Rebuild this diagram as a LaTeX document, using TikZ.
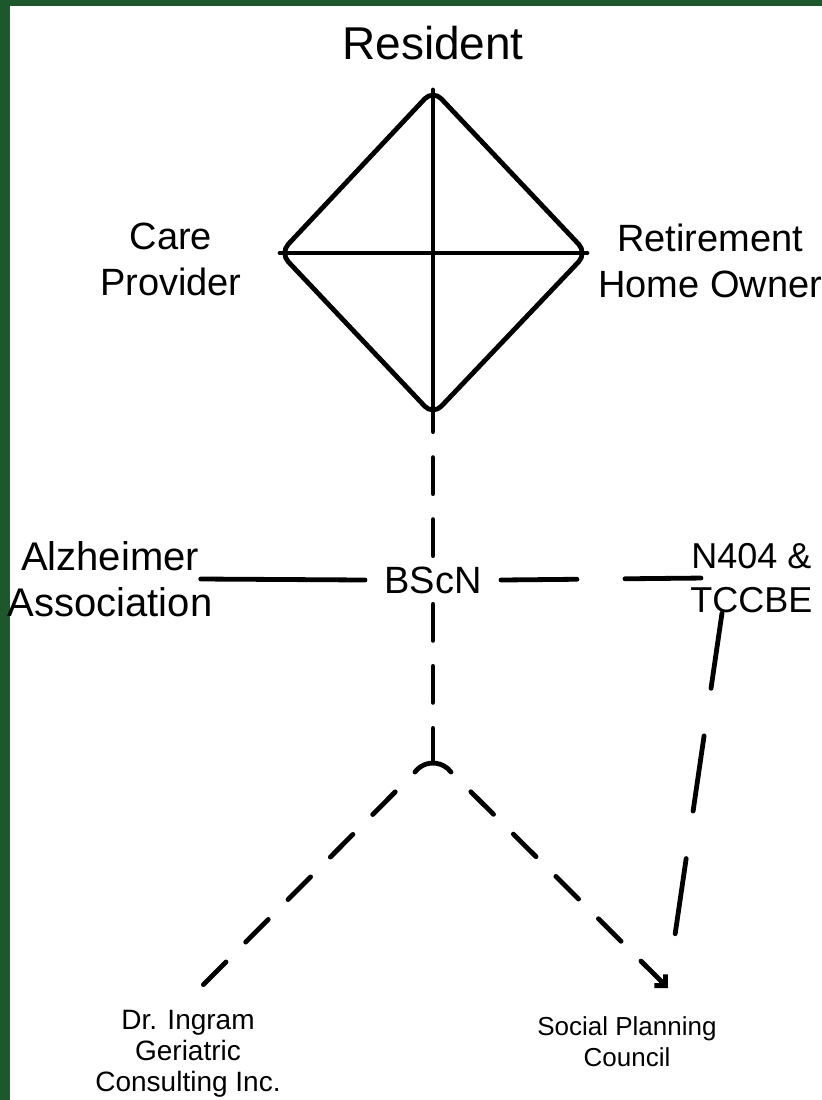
\documentclass[tikz,border=0pt]{standalone}
\usepackage{fontspec}
\setmainfont{Liberation Sans}
\usepackage{tikz}
\usetikzlibrary{arrows.meta,positioning}
\definecolor{slidegreen}{RGB}{29,88,44}

\begin{document}
\begin{tikzpicture}[
    x=0.5pt, y=0.5pt,
    line cap=round,
    line join=round,
    >={Straight Barb[length=4pt,width=8pt]},
    tag/.style={
		inner sep=0pt,
		align=center,
		font=\fontsize{19}{23}\selectfont
	},
	big/.style={
		inner sep=0pt,
		font=\fontsize{23}{27}\selectfont
	},
	small/.style={
		inner sep=0pt,
		align=center,
		font=\fontsize{14}{15.5}\selectfont
	},
	edge/.style={
		line width=2.4pt
	},
	dashline/.style={
		line width=2.4pt,
		dash pattern=on 18pt off 13pt
	},
	longdash/.style={
		line width=2.4pt,
		dash pattern=on 38pt off 24pt
	},
	diagdash/.style={
		line width=2.4pt,
		dash pattern=on 16pt off 14pt,
		dash phase=16pt
	}
  ]

% // slide frame
\fill [slidegreen] (0,0) rectangle (822,-1100);
\fill [white] (10,-6) rectangle (822,-1100);
\useasboundingbox (0,0) rectangle (822,-1100);

% // the diamond
\coordinate (dtop) at (433,-90);
\coordinate (dright) at (587,-253);
\coordinate (dbot) at (433,-415);
\coordinate (dleft) at (280,-253);

\draw [edge, rounded corners=6pt] (dtop) -- (dright) -- (dbot) -- (dleft) -- cycle;
\draw [edge] (dtop) -- (dbot);
\draw [edge] (dleft) -- (dright);

\node [big, above=15pt of dtop] (resident) {Resident};
\node [tag, left=19pt of dleft, yshift=-3pt] (care) {Care\\Provider};
\node [tag, right=5.5pt of dright, yshift=-4pt] (owner) {Retirement\\Home Owner};

% // the middle row
\node [tag, minimum height=24pt, inner xsep=9.5pt] (bscn) at (433,-580) {BScN};
\node [tag, font=\fontsize{20}{23}\selectfont] (alz) at (110,-579) {Alzheimer\\Association};
\node [tag, anchor=west, font=\fontsize{18}{22}\selectfont] (ntc) at (690,-578) {N404 \&\\TCCBE};

% // bottom row
\node [small] (ingram) at (188,-1054) {Dr. Ingram\\Geriatric\\Consulting Inc.};
\node [small, font=\fontsize{13}{15.5}\selectfont] (spc) at (627,-1042) {Social Planning\\Council};

\coordinate (junc) at (433,-763);
\coordinate (arcL) at (415,-772);
\coordinate (arcR) at (451,-772);
\coordinate (endL) at (200,-988);
\coordinate (endR) at (668,-988);
\coordinate (endN) at (675,-935);

\draw [dashline] (bscn.north) -- (dbot);
\draw [dashline] (bscn.south) -- (junc);
\draw [edge] (arcL) arc [start angle=143, end angle=37, radius=11.25pt];

\draw [edge] ([xshift=-6pt]alz.east) -- (bscn.west);
\draw [longdash] (bscn.east) -- ([xshift=7.5pt]ntc.west);
\draw [longdash] ([xshift=16pt]ntc.south west) -- (endN);

\draw [diagdash] (arcL) -- (endL);
\draw [diagdash, ->] (arcR) -- (endR);

\end{tikzpicture}
\end{document}
